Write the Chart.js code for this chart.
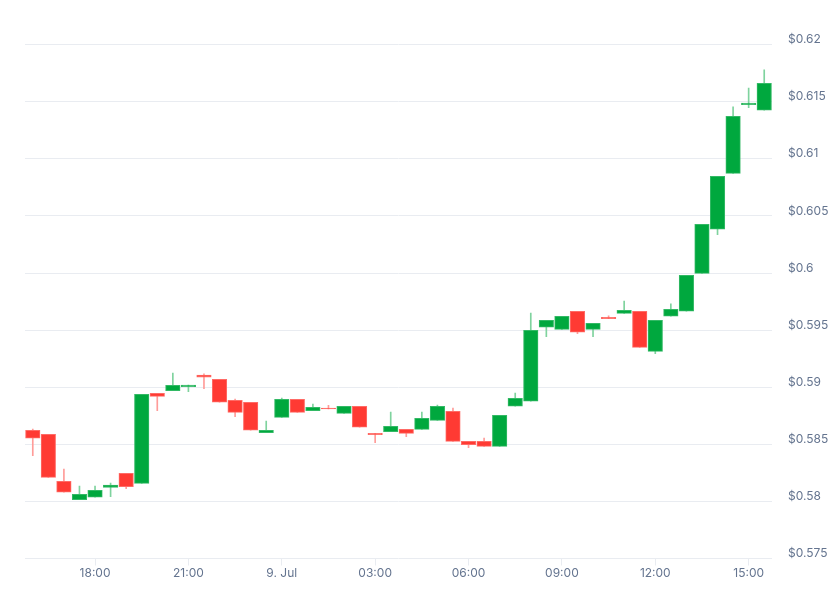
<!DOCTYPE html>
<html>
<head>
<meta charset="utf-8">
<style>
  html, body { margin: 0; padding: 0; background: #fff; }
  canvas { display: block; }
</style>
<script src="https://cdn.jsdelivr.net/npm/chart.js@4"></script>
</head>
<body>
<canvas id="chart" width="838" height="593"></canvas>
<script>
const categories = ['16:00','16:30','17:00','17:30','18:00','18:30','19:00','19:30','20:00','20:30','21:00','21:30',
  '22:00','22:30','23:00','23:30','9. Jul','00:30','01:00','01:30','02:00','02:30','03:00','03:30',
  '04:00','04:30','05:00','05:30','06:00','06:30','07:00','07:30','08:00','08:30','09:00','09:30',
  '10:00','10:30','11:00','11:30','12:00','12:30','13:00','13:30','14:00','14:30','15:00','15:30'];
const shownLabels = ['18:00','21:00','9. Jul','03:00','06:00','09:00','12:00','15:00'];

const opens = [.58623,.58588,.58176,.58015,.58036,.58123,.58246,.58158,.58947,.58969,.59004,.59107,
  .59069,.58885,.58868,.58602,.58736,.58894,.58794,.58818,.58771,.58833,.58596,.58610,
  .58631,.58631,.58710,.58789,.58526,.58526,.58482,.58833,.58877,.59525,.59507,.59665,
  .59507,.59612,.59647,.59665,.59314,.59621,.59665,.59997,.60383,.60873,.61474,.61425];
const closes = [.58553,.58211,.58080,.58062,.58097,.58144,.58129,.58938,.58920,.59017,.59019,.59087,
  .58868,.58780,.58623,.58623,.58894,.58780,.58824,.58809,.58833,.58649,.58584,.58658,
  .58596,.58728,.58833,.58526,.58497,.58482,.58754,.58903,.59498,.59586,.59621,.59481,
  .59560,.59600,.59673,.59349,.59586,.59682,.59980,.60427,.60847,.61372,.61489,.61661];
const highs = [.58634,.58588,.58284,.58135,.58135,.58161,.58246,.58938,.58947,.59124,.59019,.59116,
  .59069,.58897,.58868,.58704,.58905,.58894,.58853,.58842,.58833,.58833,.58596,.58783,
  .58631,.58783,.58844,.58818,.58526,.58555,.58754,.58949,.59650,.59586,.59621,.59665,
  .59560,.59624,.59755,.59665,.59586,.59729,.59980,.60427,.60847,.61454,.61620,.61778];
const lows = [.58400,.58211,.58080,.58015,.58036,.58041,.58111,.58158,.58794,.58969,.58961,.58987,
  .58868,.58742,.58623,.58602,.58736,.58780,.58794,.58809,.58771,.58649,.58514,.58610,
  .58567,.58631,.58710,.58526,.58470,.58482,.58482,.58833,.58877,.59442,.59507,.59469,
  .59442,.59600,.59647,.59349,.59293,.59621,.59665,.59997,.60335,.60873,.61448,.61425];

const isUp = opens.map((o, i) => closes[i] >= o);
const pick = (up, down) => isUp.map(u => u ? up : down);

const textColor = '#64748f';
const gridColor = '#e9ecf1';
const fontFamily = 'Inter, sans-serif';

new Chart(document.getElementById('chart'), {
  type: 'bar',
  data: {
    labels: categories,
    datasets: [
      {
        // candle bodies
        data: opens.map((o, i) => [o, closes[i]]),
        backgroundColor: pick('#00a83e', '#ff3a33'),
        borderColor: pick('#33b965', '#ff6b66'),
        borderWidth: 1,
        borderSkipped: false,
        barThickness: 14.5,
        order: 1
      },
      {
        // wicks
        data: lows.map((l, i) => [l, highs[i]]),
        backgroundColor: pick('#7fd39e', '#ff9c99'),
        barThickness: 1,
        order: 2
      }
    ]
  },
  options: {
    responsive: false,
    animation: false,
    devicePixelRatio: 1,
    layout: { padding: { left: 25, top: 44.6, right: 0, bottom: 0 } },
    plugins: { legend: { display: false }, tooltip: { enabled: false } },
    datasets: { bar: { grouped: false } },
    scales: {
      x: {
        afterBuildTicks: scale => {
          scale.ticks = scale.ticks.filter(t => shownLabels.includes(categories[t.value]));
        },
        afterFit: scale => { scale.height = 34.5; },
        grid: { offset: false, drawOnChartArea: false, color: gridColor, tickColor: gridColor, tickLength: 7 },
        border: { display: false },
        ticks: {
          autoSkip: false,
          maxRotation: 0,
          padding: 1,
          color: textColor,
          font: { family: fontFamily, size: 12 }
        }
      },
      y: {
        position: 'right',
        min: 0.575,
        max: 0.62,
        afterFit: scale => { scale.width = 66; },
        grid: { color: gridColor, drawTicks: false },
        border: { display: false },
        ticks: {
          stepSize: 0.005,
          padding: 16,
          color: textColor,
          font: { family: fontFamily, size: 12, lineHeight: '10px' },
          // empty second line lifts each label above its grid line
          callback: v => ['$' + parseFloat(v.toFixed(3)), '']
        }
      }
    }
  }
});
</script>
</body>
</html>
